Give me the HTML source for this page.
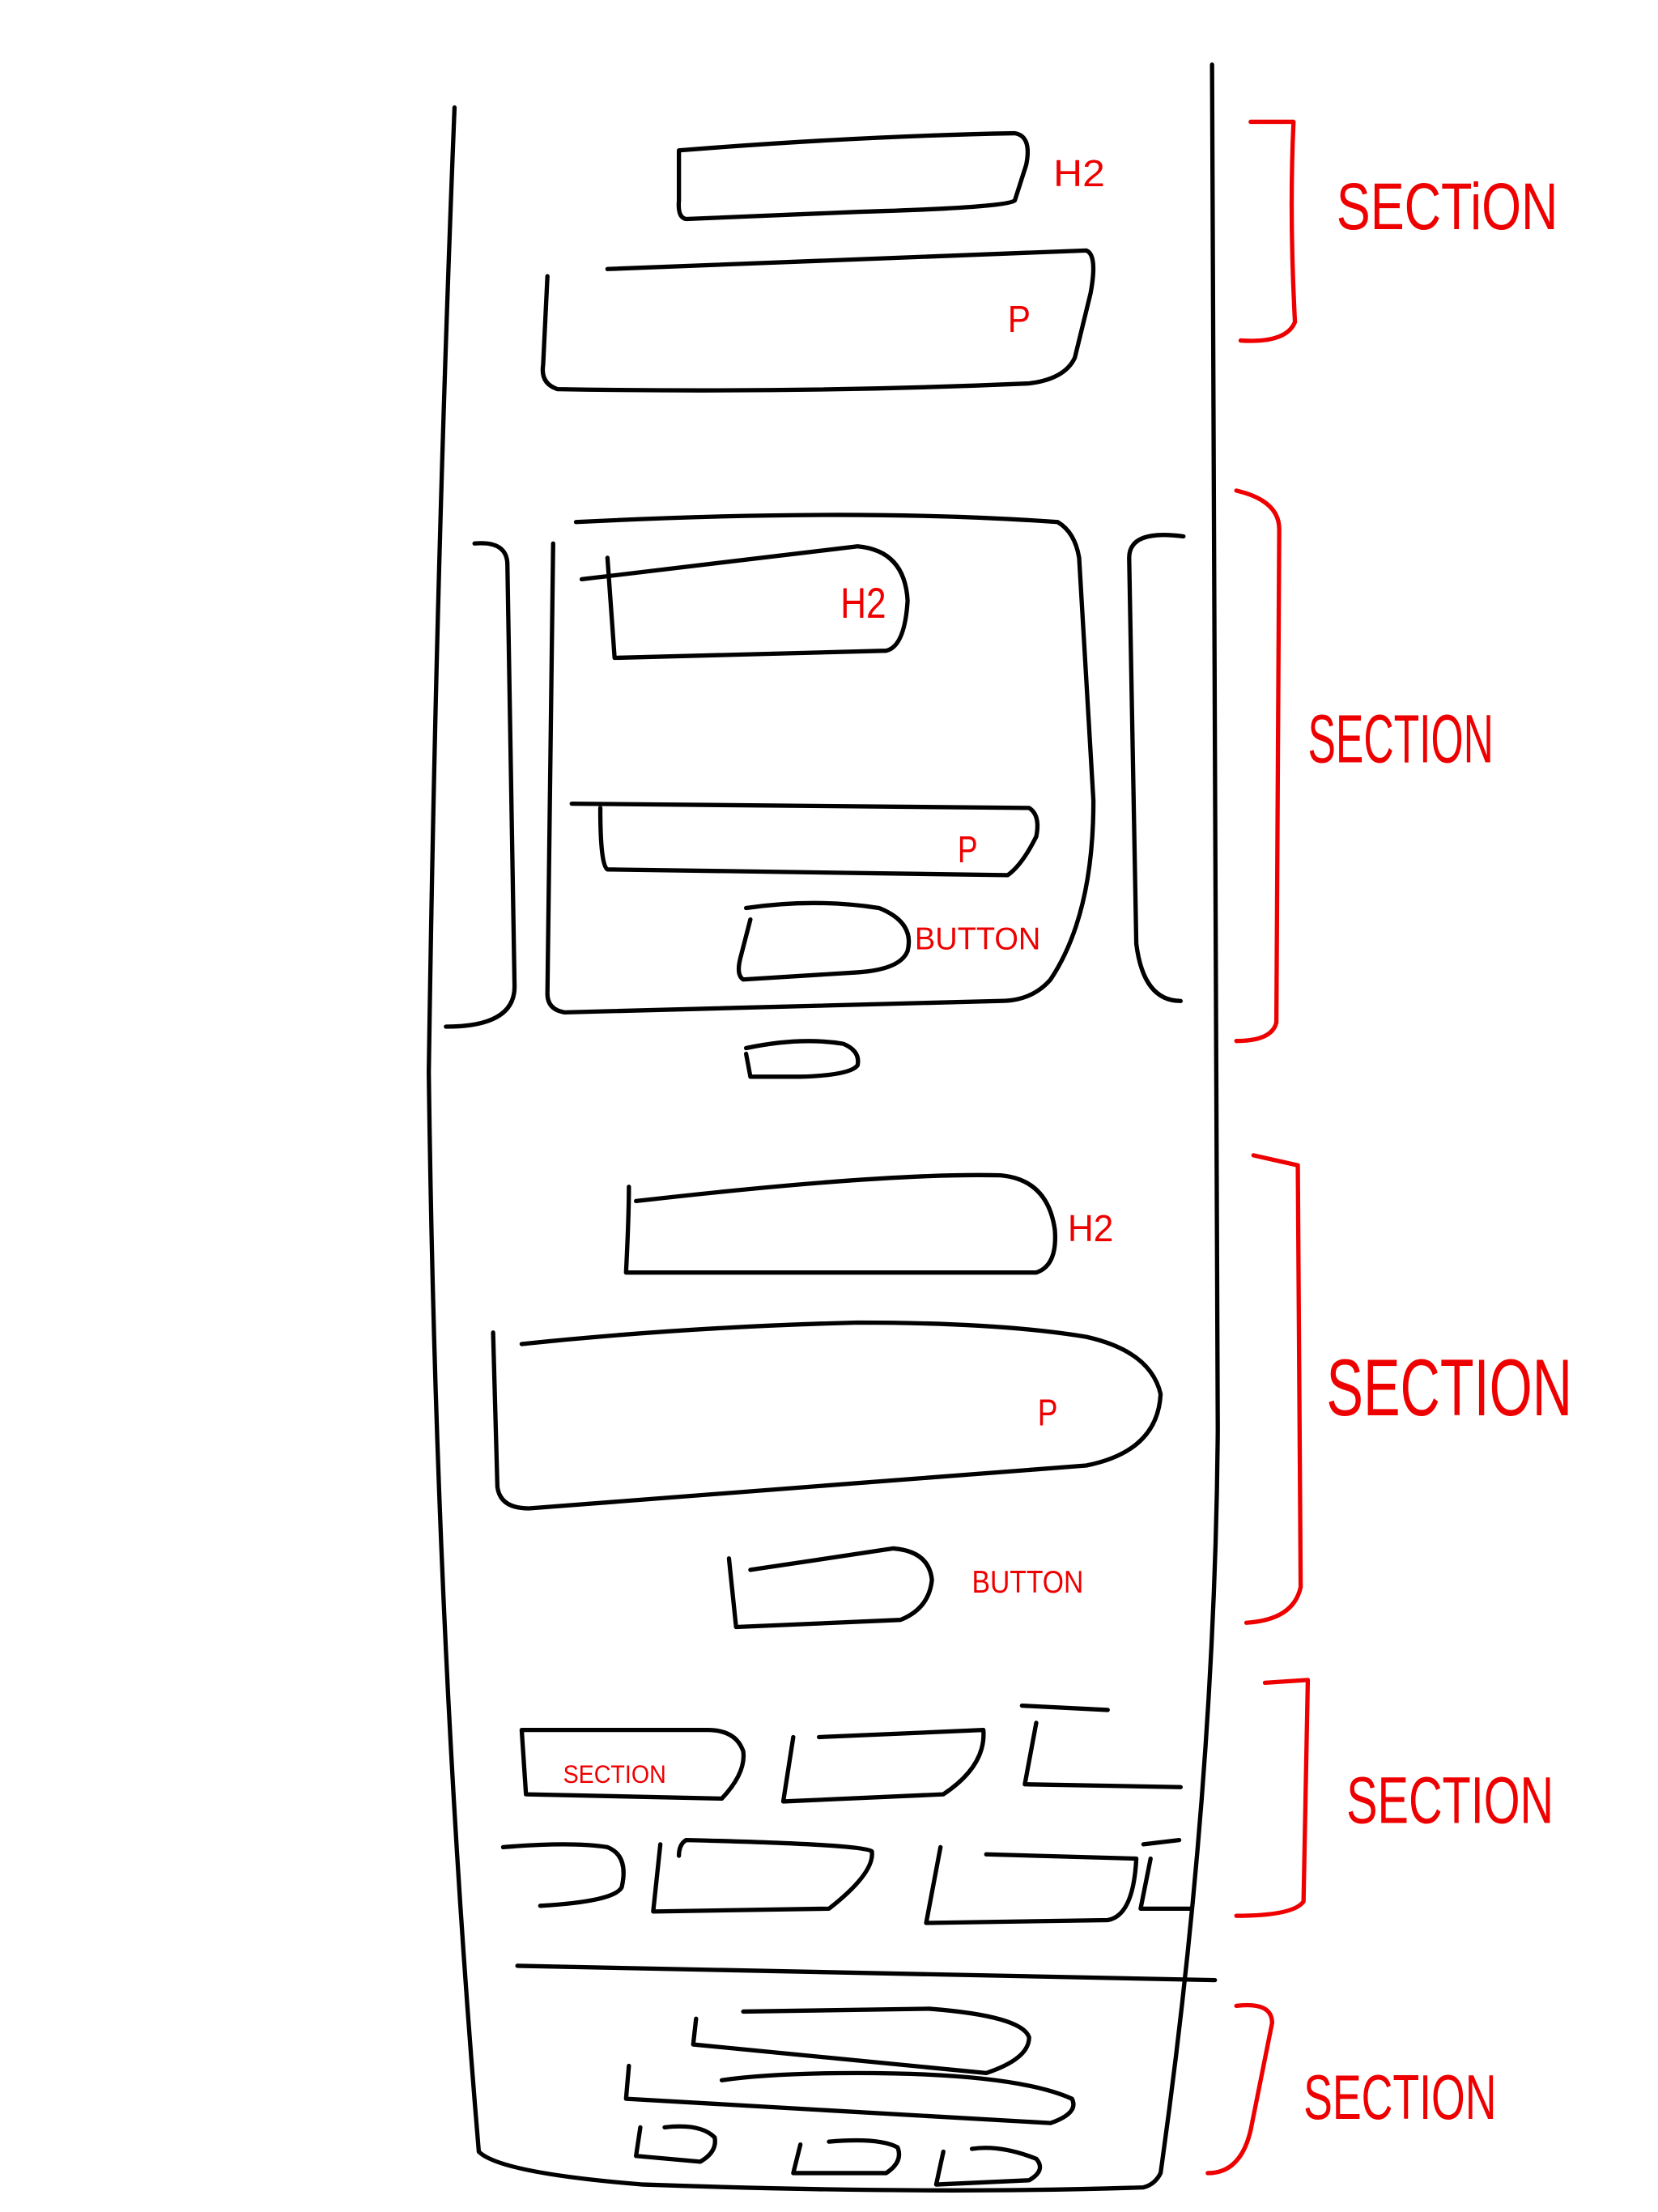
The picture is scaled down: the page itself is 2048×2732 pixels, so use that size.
<!DOCTYPE html>
<html><head><meta charset="utf-8"><style>
html,body{margin:0;padding:0;background:#fff;}
svg{display:block;}
.k{fill:none;stroke:#000;stroke-width:3;stroke-linecap:round;stroke-linejoin:round;}
.r{fill:none;stroke:#e00;stroke-width:3;stroke-linecap:round;stroke-linejoin:round;}
text{fill:#e00;font-family:"Liberation Sans",sans-serif;}
</style></head><body>
<svg width="2048" height="2732" viewBox="0 0 1160 1547" xmlns="http://www.w3.org/2000/svg">
<g>
<path class="k" d="M318,75 Q305,400 300,750 Q305,1150 335,1505 Q350,1520 450,1528 Q650,1535 800,1530 Q808,1528 812,1520 Q850,1250 852,1000 Q850,500 848,45"/>
</g>
<g>
<path class="k" d="M475,105 Q600,95 710,93 Q722,95 718,115 L710,140 Q705,145 600,148 L480,153 Q474,152 475,140 Z"/>
<text x="737" y="130" font-size="26" textLength="36" lengthAdjust="spacingAndGlyphs">H2</text>
<path class="k" d="M425,188 L760,175 Q768,178 763,205 L752,250 Q745,265 720,268 Q560,275 390,272 Q378,268 380,255 L383,193"/>
<text x="705" y="232" font-size="26" textLength="16" lengthAdjust="spacingAndGlyphs">P</text>
<path class="r" d="M875,85 L905,85 Q902,150 906,225 Q900,240 868,238"/>
<text x="935" y="160" font-size="46" textLength="155" lengthAdjust="spacingAndGlyphs">SECTiON</text>
</g>
<g>
<path class="k" d="M403,365 Q600,355 740,365 Q752,372 755,390 L765,560 Q765,640 735,685 Q722,700 700,700 L395,708 Q383,706 383,695 L387,380"/>
<path class="k" d="M332,380 Q355,378 355,395 L360,690 Q360,718 312,718"/>
<path class="k" d="M828,375 Q790,370 790,390 L795,660 Q800,700 826,700"/>
<path class="k" d="M407,405 L600,382 Q633,385 635,420 Q633,452 620,455 L430,460 L425,390"/>
<text x="588" y="432" font-size="30" textLength="32" lengthAdjust="spacingAndGlyphs">H2</text>
<path class="k" d="M400,562 L720,565 Q728,570 725,585 Q715,605 705,612 L425,608 Q420,605 420,565"/>
<text x="670" y="603" font-size="26" textLength="14" lengthAdjust="spacingAndGlyphs">P</text>
<path class="k" d="M522,635 Q570,628 615,635 Q640,645 635,665 Q630,678 600,680 L520,685 Q515,682 518,670 L525,643"/>
<text x="640" y="664" font-size="22" textLength="88" lengthAdjust="spacingAndGlyphs">BUTTON</text>
<path class="k" d="M522,733 Q560,725 590,730 Q602,735 600,745 Q595,752 560,753 L525,753 L522,737"/>
<path class="r" d="M865,343 Q895,350 895,370 L893,715 Q890,728 865,728"/>
<text x="915" y="533" font-size="48" textLength="130" lengthAdjust="spacingAndGlyphs">SECTION</text>
</g>
<g>
<path class="k" d="M440,830 Q440,850 438,890 L725,890 Q740,885 738,860 Q733,825 700,822 Q620,820 445,840"/>
<text x="747" y="868" font-size="26" textLength="32" lengthAdjust="spacingAndGlyphs">H2</text>
<path class="k" d="M345,932 L348,1040 Q350,1055 370,1055 L760,1025 Q810,1015 812,975 Q805,945 760,935 Q700,925 600,925 Q480,928 365,940"/>
<text x="726" y="997" font-size="26" textLength="14" lengthAdjust="spacingAndGlyphs">P</text>
<path class="k" d="M510,1090 L515,1138 L630,1133 Q650,1125 652,1105 Q650,1085 625,1083 L525,1098"/>
<text x="680" y="1114" font-size="22" textLength="78" lengthAdjust="spacingAndGlyphs">BUTTON</text>
<path class="r" d="M877,808 L908,815 L910,1110 Q905,1133 872,1135"/>
<text x="928" y="990" font-size="56" textLength="172" lengthAdjust="spacingAndGlyphs">SECTION</text>
</g>
<g>
<path class="k" d="M365,1210 L368,1255 L505,1258 Q522,1240 520,1225 Q515,1210 495,1210 Z"/>
<text x="394" y="1247" font-size="18" textLength="72" lengthAdjust="spacingAndGlyphs">SECTION</text>
<path class="k" d="M555,1215 L548,1260 L660,1255 Q690,1235 688,1210 L573,1215"/>
<path class="k" d="M715,1193 L775,1196 M725,1205 L717,1248 L826,1250"/>
<path class="k" d="M352,1292 Q400,1288 425,1292 Q440,1298 435,1320 Q430,1330 378,1333"/>
<path class="k" d="M462,1290 L457,1337 L580,1335 Q612,1310 610,1295 Q605,1290 480,1287 Q475,1290 475,1298"/>
<path class="k" d="M658,1292 L648,1345 L775,1343 Q793,1340 795,1300 L690,1297"/>
<path class="k" d="M800,1290 L825,1287 M805,1300 L798,1335 L833,1335"/>
<path class="r" d="M885,1177 L915,1175 L912,1330 Q905,1340 865,1340"/>
<text x="942" y="1275" font-size="46" textLength="145" lengthAdjust="spacingAndGlyphs">SECTION</text>
</g>
<g>
<path class="k" d="M362,1375 L850,1385"/>
<path class="k" d="M487,1412 L485,1430 L690,1450 Q720,1440 720,1425 Q715,1410 650,1405 L520,1407"/>
<path class="k" d="M440,1445 L438,1468 L735,1485 Q755,1478 750,1468 Q710,1450 600,1450 Q540,1450 505,1455"/>
<path class="k" d="M448,1488 L445,1508 L490,1512 Q502,1505 500,1495 Q490,1485 465,1488"/>
<path class="k" d="M560,1500 L555,1520 L620,1520 Q632,1512 628,1502 Q615,1495 580,1498"/>
<path class="k" d="M660,1505 L655,1528 L720,1525 Q732,1518 725,1510 Q700,1500 680,1503"/>
<path class="r" d="M865,1403 Q890,1400 890,1415 L875,1490 Q868,1520 845,1520"/>
<text x="912" y="1482" font-size="44" textLength="135" lengthAdjust="spacingAndGlyphs">SECTION</text>
</g>
</svg>
</body></html>
